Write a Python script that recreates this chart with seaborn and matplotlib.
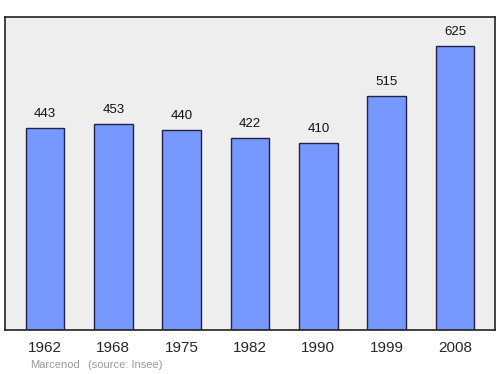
import matplotlib
matplotlib.use("Agg")
import matplotlib.pyplot as plt
import seaborn as sns
import pandas as pd

years = ["1962", "1968", "1975", "1982", "1990", "1999", "2008"]
population = [443, 453, 440, 422, 410, 515, 625]

sns.set_style("white")
plt.rcParams['font.family'] = ['Liberation Sans', 'DejaVu Sans']

df = pd.DataFrame({"year": years, "pop": population})

fig = plt.figure(figsize=(5, 3.74), dpi=100)
ax = fig.add_axes([0.01, 0.1176, 0.98, 0.837])
ax.set_facecolor("#eeeeee")
sns.barplot(data=df, x="year", y="pop", ax=ax, color="#7799ff", saturation=1,
            width=0.57, edgecolor="#222244", linewidth=1)
ax.set_xlim(-0.585, 6.585)
ax.set_ylim(0, 688)
for i, v in enumerate(population):
    ax.text(i, v + 31, str(v), ha="center", va="center", fontsize=9.5, color="#111111")
ax.set_yticks([])
ax.set_xlabel("")
ax.set_ylabel("")
ax.tick_params(axis="x", length=0, labelsize=11, pad=8)
for s in ax.spines.values():
    s.set_visible(True)
    s.set_color("#222222")
    s.set_linewidth(1.2)
fig.text(30/500, 1 - 365/374, "Marcenod", fontsize=8, color="#999999", va="center", ha="left")
fig.text(88/500, 1 - 365/374, "(source: Insee)", fontsize=8, color="#999999", va="center", ha="left")
fig.savefig("out.png", dpi=100)
